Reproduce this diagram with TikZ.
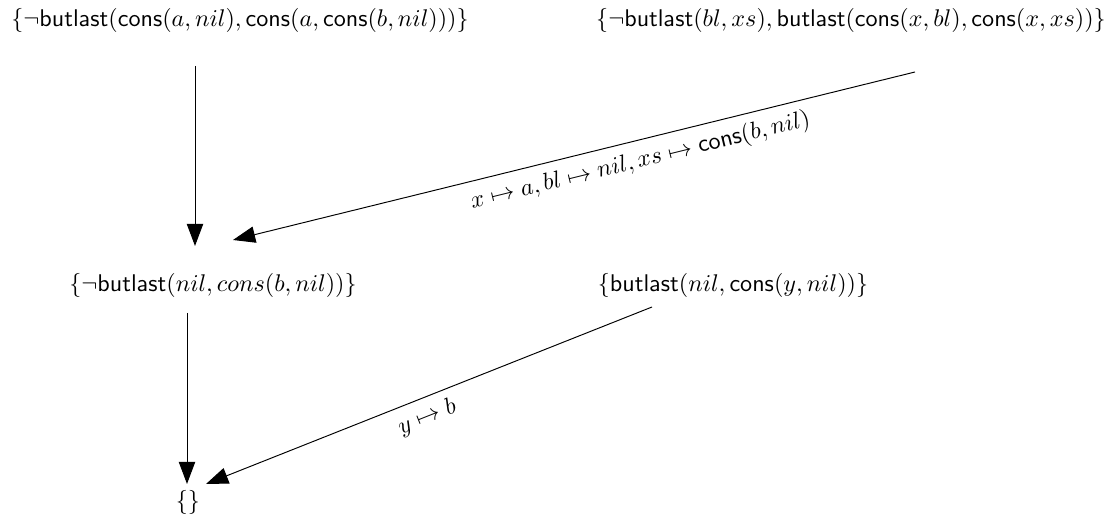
\documentclass[tikz,border=0pt]{standalone}
\usetikzlibrary{arrows.meta}
\begin{document}
\begin{tikzpicture}[x=0.4145pt,y=-0.4145pt,
  lbl/.style={inner sep=0pt, anchor=center},
  conn/.style={line width=0.4pt, -{Triangle[length=9.2pt,width=6.8pt]}},
  edgelbl/.style={sloped, below, inner sep=3.5pt}]
\useasboundingbox (0,0) rectangle (1115,522);
\node[lbl] (A) at (240,20) {$\{\neg\mathsf{butlast}(\mathsf{cons}(a,nil),\mathsf{cons}(a,\mathsf{cons}(b,nil)))\}$};
\node[lbl] (B) at (851,20) {$\{\neg\mathsf{butlast}(bl,xs),\mathsf{butlast}(\mathsf{cons}(x,bl),\mathsf{cons}(x,xs))\}$};
\node[lbl] (C) at (213,285) {$\{\neg\mathsf{butlast}(nil,cons(b,nil))\}$};
\node[lbl] (D) at (733,285) {$\{\mathsf{butlast}(nil,\mathsf{cons}(y,nil))\}$};
\node[lbl] (E) at (188,502) {$\{\}$};
\coordinate (a1) at (195,66);
\coordinate (c1) at (195,246);
\coordinate (b1) at (915,72);
\coordinate (c2) at (233,240);
\coordinate (c3) at (187,313);
\coordinate (e1) at (187,484);
\coordinate (d1) at (652,307);
\coordinate (e2) at (206,484);
\draw[conn] (a1) -- (c1);
\draw[conn] (b1) -- node[edgelbl, pos=0.41] {$x\mapsto a, bl\mapsto nil, xs\mapsto\mathsf{cons}(b,nil)$} (c2);
\draw[conn] (c3) -- (e1);
\draw[conn] (d1) -- node[edgelbl, pos=0.52] {$y\mapsto b$} (e2);
\end{tikzpicture}
\end{document}
